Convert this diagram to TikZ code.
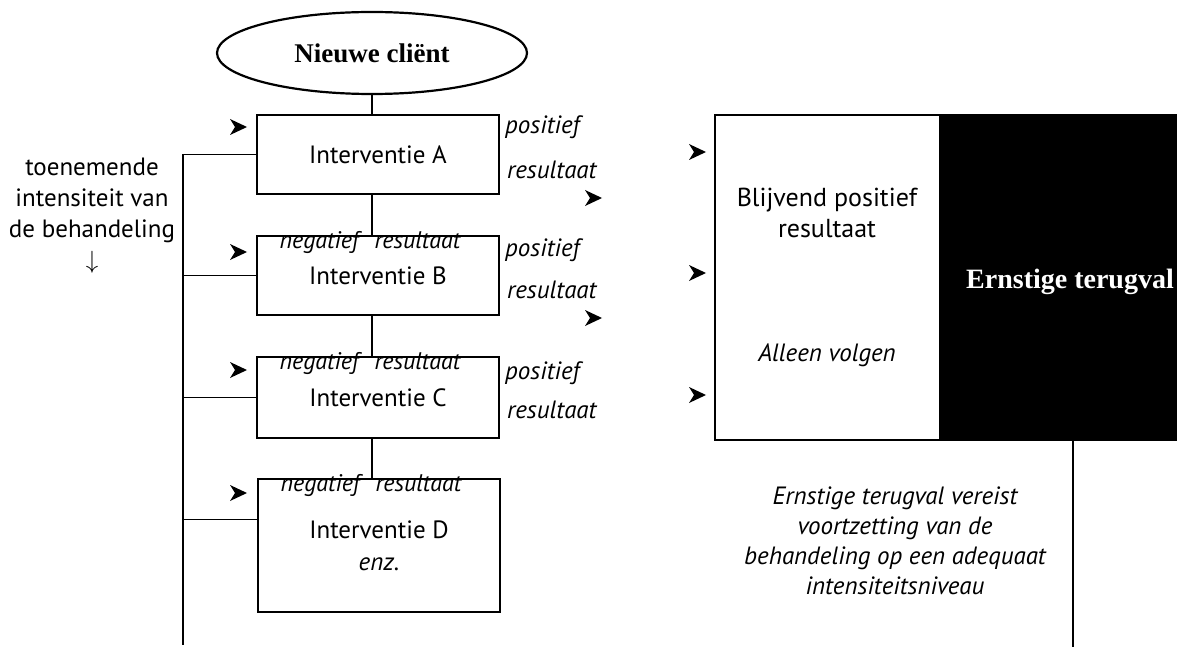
\documentclass[tikz,border=0pt]{standalone}
\usepackage{fontspec}
\setmainfont{PT Sans}
\newfontfamily\timesfont{Liberation Serif}
\usetikzlibrary{shapes.geometric}

\tikzset{
  lijn/.style={line width=1.6pt},
  interventie/.style={draw, lijn, rectangle, minimum width=242pt, inner sep=0pt, outer sep=0pt, align=center, font=\fontsize{25}{30}\selectfont},
  uitkomst/.style={anchor=west, inner sep=0pt, font=\fontsize{25}{28}\selectfont\itshape},
  negatief/.style={inner sep=0pt, font=\fontsize{24}{28}\selectfont\itshape},
  pijlpunt/.pic={\fill (-8,-8) -- (9,0) -- (-8,8) -- (-3,0) -- cycle;}
}

\begin{document}
\begin{tikzpicture}[x=1pt,y=-1pt]
\useasboundingbox (0,0) rectangle (1177,647);

%% start
\node[draw, line width=2.2pt, ellipse, minimum width=310pt, minimum height=82pt, inner sep=0pt, font=\timesfont\bfseries\fontsize{27}{30}\selectfont] (client) at (372,53) {Nieuwe cliënt};

%% interventies
\node[interventie, minimum height=79pt] (A) at (378,154.5) {Interventie A};
\node[interventie, minimum height=79pt] (B) at (378,275.5) {Interventie B};
\node[interventie, minimum height=81pt] (C) at (378,397.5) {Interventie C};
\node[interventie, minimum height=133pt] (D) at (379,545.5) {Interventie D\\[2pt]\textit{enz.}};

%% verbindingen
\draw[lijn] (client.south) -- (client.south |- A.north);
\foreach \a/\b in {A/B, B/C, C/D}
  \draw[lijn] (\a.south -| client.south) -- (\b.north -| client.south);

%% negatief resultaat
\foreach \n in {B,C,D}
  \node[negatief] (neg\n) at ([xshift=-8pt,yshift=-6pt]\n.north) {negatief\hspace{0.4em} resultaat};

%% positief resultaat
\foreach \n/\p/\r in {A/127/170, B/250/290, C/373/410} {
  \node[uitkomst] (pos\n) at (505,\p) {positief};
  \node[uitkomst] (res\n) at (507,\r) {resultaat};
}

%% zijlijn
\coordinate (rail) at (183,645);
\draw[lijn] (A.west) -- (A.west -| rail) -- (rail);
\foreach \n in {B,C}
  \draw[lijn] (\n.west) -- (\n.west -| rail);
\draw[lijn] ([yshift=26pt]D.west) -- ([yshift=26pt]D.west -| rail);

\node[align=center, font=\fontsize{25}{31}\selectfont] (intens) at (92,216) {toenemende\\intensiteit van\\de behandeling\\$\downarrow$};

%% rechterkant
\node[draw, lijn, minimum width=225pt, minimum height=325pt, inner sep=0pt, outer sep=0pt] (blijvend) at (827.5,277.5) {};
\node[draw, lijn, fill=black, minimum width=237pt, minimum height=325pt, inner sep=0pt, outer sep=0pt] (terugval) at (1058.5,277.5) {};

\node[align=center, font=\fontsize{26}{31}\selectfont] (blijvendtxt) at (827,213) {Blijvend positief\\resultaat};
\node[font=\fontsize{25}{30}\selectfont\itshape] (volgen) at (827,355) {Alleen volgen};
\node[text=white, font=\timesfont\bfseries\fontsize{28}{30}\selectfont] (ernstig) at (1070,282) {Ernstige terugval};

\coordinate (einde) at (1073,647);
\draw[lijn] (terugval.south -| einde) -- (einde);

\node[align=center, font=\fontsize{25}{30}\selectfont\itshape] (vereist) at (895,541) {Ernstige terugval vereist\\voortzetting van de\\behandeling op een adequaat\\intensiteitsniveau};

%% pijlpunten
\foreach \x/\y in {238/127, 238/252, 238/370, 238/493, 593/198, 593/318, 697/152, 697/273, 697/395}
  \pic at (\x,\y) {pijlpunt};

\end{tikzpicture}
\end{document}
